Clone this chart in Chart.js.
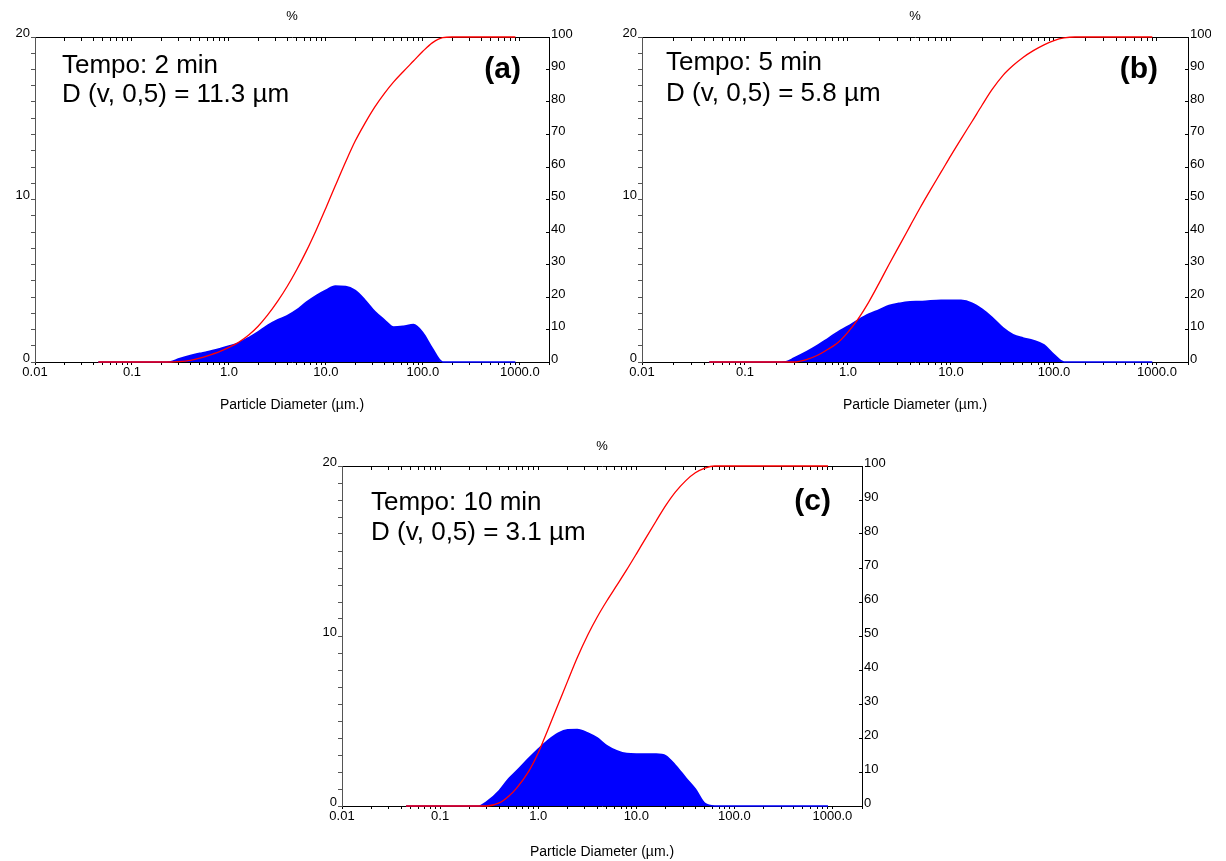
<!DOCTYPE html>
<html>
<head>
<meta charset="utf-8">
<script src="https://cdn.jsdelivr.net/npm/chart.js@4.4.1/dist/chart.umd.min.js"></script>
<style>
  body { margin: 0; background: #fff; width: 1226px; height: 861px; overflow: hidden; }
  .panel { position: absolute; }
</style>
</head>
<body>
<div class="panel" style="left:0px;top:0px"><canvas id="chartA" width="600" height="420"></canvas></div>
<div class="panel" style="left:600px;top:0px"><canvas id="chartB" width="611" height="420"></canvas></div>
<div class="panel" style="left:290px;top:420px"><canvas id="chartC" width="630" height="441"></canvas></div>
<script>
// particle size classes (µm), shared by the three runs
const sizes = [0.045, 0.1, 0.2, 0.25, 0.3, 0.4, 0.5, 0.6, 0.8,
  1.0, 1.25, 1.6, 2.0, 2.5, 3.2, 4.0, 5.0, 6.3, 8.0,
  10, 12.5, 16, 20, 25, 32, 40, 50, 63, 80,
  100, 125, 160, 200, 500, 900];

// volume % (left axis, blue area)
const volA = [0, 0, 0, 0.02, 0.18, 0.4, 0.53, 0.63, 0.82,
  0.98, 1.17, 1.5, 1.85, 2.25, 2.6, 2.85, 3.2, 3.68, 4.1,
  4.42, 4.68, 4.65, 4.4, 3.85, 3.1, 2.6, 2.15, 2.2, 2.3,
  1.8, 0.85, 0, 0, 0, 0];
const volB = [0, 0, 0, 0.02, 0.25, 0.65, 1.0, 1.33, 1.85,
  2.2, 2.58, 2.95, 3.2, 3.47, 3.62, 3.7, 3.72, 3.76, 3.79,
  3.8, 3.79, 3.62, 3.25, 2.75, 2.1, 1.68, 1.48, 1.33, 1.05,
  0.45, 0, 0, 0, 0, 0];
const volC = [0, 0, 0, 0, 0.25, 0.9, 1.6, 2.05, 2.8,
  3.35, 3.85, 4.28, 4.48, 4.5, 4.3, 4.0, 3.55, 3.25, 3.08,
  3.06, 3.06, 3.06, 2.95, 2.4, 1.65, 1.0, 0.15, 0, 0,
  0, 0, 0, 0, 0, 0];

// cumulative % undersize (right axis, red line)
const cumA = [0, 0, 0, 0, 0.1, 0.5, 1.2, 1.9, 3.2,
  4.5, 6.0, 8.3, 11.0, 14.4, 18.8, 23.3, 28.4, 34.2, 40.8,
  47.4, 54.2, 61.6, 67.9, 73.2, 78.5, 82.6, 86.2, 89.4, 92.6,
  95.6, 98.2, 99.8, 100, 100, 100];
const cumB = [0, 0, 0, 0, 0, 0.8, 2.0, 3.4, 6.0,
  9.2, 13.2, 18.6, 24.2, 30.0, 36.2, 41.8, 47.4, 52.9, 58.4,
  63.6, 68.6, 74.0, 79.0, 83.8, 88.2, 91.2, 93.7, 95.8, 97.6,
  98.9, 99.7, 100, 100, 100, 100];
const cumC = [0, 0, 0, 0, 0, 0.9, 2.9, 5.2, 10.2,
  15.6, 22.3, 29.9, 36.8, 43.6, 50.3, 55.6, 60.3, 64.8, 69.5,
  74.1, 78.8, 83.9, 88.4, 92.3, 95.7, 98.0, 99.4, 100, 100,
  100, 100, 100, 100, 100, 100];

// axis labels
const xDecades = [0.01, 0.1, 1, 10, 100, 1000];
const xTickLabels = ["0.01", "0.1", "1.0", "10.0", "100.0", "1000.0"];
const xTitle = "Particle Diameter (µm.)";
const topTitle = "%";
const tempoLabels = ["Tempo: 2 min", "Tempo: 5 min", "Tempo: 10 min"];
const d50Labels = ["D (v, 0,5) = 11.3 µm", "D (v, 0,5) = 5.8 µm", "D (v, 0,5) = 3.1 µm"];
const panelTags = ["(a)", "(b)", "(c)"];

const FONT = '"Liberation Sans", Arial, sans-serif';
Chart.defaults.font.family = FONT;
Chart.defaults.color = "#000";

// minor log ticks 1..9 per decade up to the axis max
const X_MAX = 2000;
let xTickValues = [];
xDecades.forEach((d) => {
  for (let k = 1; k <= 9; k++) {
    if (d * k <= X_MAX) xTickValues.push(d * k);
  }
});

function xLabelFor(v) {
  for (let i = 0; i < xDecades.length; i++) {
    if (Math.abs(v - xDecades[i]) < xDecades[i] * 1e-6) return xTickLabels[i];
  }
  return "";
}

const notePlugin = {
  id: "notes",
  afterDraw: (chart) => {
    const o = chart.options.plugins.notes;
    const a = chart.chartArea;
    const ctx = chart.ctx;
    ctx.save();
    ctx.fillStyle = "#000";
    ctx.textBaseline = "middle";
    ctx.textAlign = "left";
    ctx.font = "26px " + FONT;
    ctx.fillText(o.line1, a.left + o.dx, a.top + o.y1);
    ctx.fillText(o.line2, a.left + o.dx, a.top + o.y2);
    ctx.textAlign = "right";
    ctx.font = "bold 30px " + FONT;
    ctx.fillText(o.tag, a.right - o.tagDx, a.top + o.tagY);
    ctx.restore();
  },
};

function makeChart(id, idx, vol, cum, cfg) {
  const ctx = document.getElementById(id).getContext("2d");
  new Chart(ctx, {
    type: "line",
    plugins: [notePlugin],
    data: {
      datasets: [
        // cumulative
        {
          data: sizes.map((s, i) => ({ x: s, y: cum[i] })),
          yAxisID: "y1",
          xAxisID: "x",
          borderColor: "#ff0000",
          borderWidth: 1.3,
          pointRadius: 0,
          fill: false,
          clip: 3,
          cubicInterpolationMode: "monotone",
        },
        // volume density
        {
          data: sizes.map((s, i) => ({ x: s, y: vol[i] })),
          yAxisID: "y",
          xAxisID: "x",
          borderColor: "#0000ff",
          backgroundColor: "#0000ff",
          borderWidth: 1.6,
          pointRadius: 0,
          fill: "origin",
          clip: 3,
          cubicInterpolationMode: "monotone",
        },
      ],
    },
    options: {
      responsive: false,
      animation: false,
      layout: { padding: 0 },
      plugins: {
        legend: { display: false },
        tooltip: { enabled: false },
        notes: {
          line1: tempoLabels[idx],
          line2: d50Labels[idx],
          tag: panelTags[idx],
          dx: cfg.dx, y1: cfg.y1, y2: cfg.y2, tagDx: cfg.tagDx, tagY: cfg.tagY,
        },
      },
      scales: {
        x: {
          type: "logarithmic",
          position: "bottom",
          min: 0.01,
          max: X_MAX,
          afterBuildTicks: (s) => { s.ticks = xTickValues.map((v) => ({ value: v })); },
          afterFit: (s) => { s.height = cfg.bottomH; },
          grid: { drawOnChartArea: false, tickLength: 3, color: "#000" },
          border: { display: true, color: "#000" },
          ticks: { autoSkip: false, maxRotation: 0, minRotation: 0, padding: 0, font: { size: 13 }, callback: (v) => xLabelFor(v) },
          title: { display: true, text: xTitle, font: { size: 14 }, padding: { top: 0, bottom: cfg.xTitlePad } },
        },
        x2: {
          type: "logarithmic",
          position: "top",
          min: 0.01,
          max: X_MAX,
          afterBuildTicks: (s) => { s.ticks = xTickValues.map((v) => ({ value: v })); },
          afterFit: (s) => { s.height = cfg.topH; },
          grid: { drawOnChartArea: false, tickLength: -4, color: "#000" },
          border: { display: true, color: "#000" },
          ticks: { display: false },
          title: { display: true, text: topTitle, font: { size: 13 }, padding: { top: cfg.topTitlePad, bottom: 0 } },
        },
        y: {
          position: "left",
          min: 0,
          max: 20,
          afterFit: (s) => { s.width = cfg.leftW; },
          grid: { drawOnChartArea: false, tickLength: 4, color: "#555" },
          border: { display: true, color: "#555" },
          ticks: { stepSize: 1, autoSkip: false, padding: 1, labelOffset: -4, font: { size: 13 }, callback: (v) => (v % 10 === 0 ? String(v) : "") },
        },
        y1: {
          position: "right",
          min: 0,
          max: 100,
          afterFit: (s) => { s.width = cfg.rightW; },
          grid: { drawOnChartArea: false, tickLength: -3, color: "#000" },
          border: { display: true, color: "#000" },
          ticks: { stepSize: 10, autoSkip: false, padding: 5, labelOffset: -3, font: { size: 13 } },
        },
      },
    },
  });
}

makeChart("chartA", 0, volA, cumA, {
  leftW: 35, rightW: 51, topH: 37, bottomH: 58, topTitlePad: 9, xTitlePad: 6.6,
  dx: 27, y1: 29, y2: 58, tagDx: 28, tagY: 33,
});
makeChart("chartB", 1, volB, cumB, {
  leftW: 42, rightW: 23, topH: 37, bottomH: 58, topTitlePad: 9, xTitlePad: 6.6,
  dx: 24, y1: 26, y2: 57, tagDx: 30, tagY: 33,
});
makeChart("chartC", 2, volC, cumC, {
  leftW: 52, rightW: 58, topH: 46, bottomH: 55, topTitlePad: 19, xTitlePad: 0,
  dx: 29, y1: 37, y2: 67, tagDx: 31, tagY: 36,
});
</script>
</body>
</html>
